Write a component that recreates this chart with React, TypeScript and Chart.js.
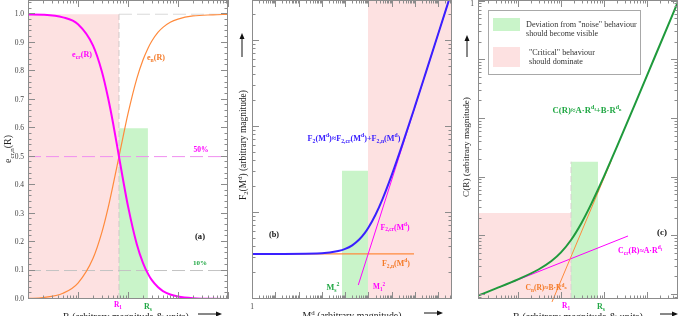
import React, { useEffect, useRef } from 'react';
import { Chart, registerables } from 'chart.js';

Chart.register(...registerables);

// ---------------- Panel (a): efficiencies vs R ----------------
const aR = [0.01, 0.02, 0.05, 0.1, 0.2, 0.3, 0.4, 0.5, 0.66, 0.8, 1, 1.5, 2, 2.5, 3, 4, 5, 7, 10, 20, 50, 100];
const aEcr = [0.999, 0.998, 0.989, 0.965, 0.89, 0.799, 0.706, 0.62, 0.5, 0.417, 0.326, 0.192, 0.126, 0.089, 0.066, 0.041, 0.028, 0.016, 0.009, 0.003, 0.0005, 0.0002];
const aEn = [0.002, 0.005, 0.02, 0.056, 0.143, 0.234, 0.32, 0.398, 0.5, 0.571, 0.651, 0.774, 0.84, 0.88, 0.906, 0.937, 0.954, 0.972, 0.983, 0.994, 0.998, 0.9995];
const aR1 = 0.66;
const aRs = 2.5;
const aXRange = [0.01, 100];
const aYRange = [0, 1.05];
const aCritTop = 1.0;
const aDevTop = 0.6;
const aLevel50 = 0.5;
const aLevel10 = 0.1;
const aYTickLabels = ['0.0', '0.1', '0.2', '0.3', '0.4', '0.5', '0.6', '0.7', '0.8', '0.9', '1.0'];

// ---------------- Panel (b): F2 vs M^d ----------------
const bM = [1, 1000, 5000, 10000, 20000, 40000, 70000, 1e5, 2e5, 4e5, 1e6, 3e6, 1e7, 3e7, 1e8, 2.85e8];
const bF2 = [3.34, 3.41, 3.61, 3.82, 4.21, 4.91, 5.87, 6.77, 9.53, 14.5, 27.7, 65.3, 176, 444, 1230, 3003];
const bF2nM = [1, 9e6];
const bF2nV = [3.34, 3.34];
const bF2crM = [36500, 2.85e8];
const bF2crV = [1.455, 3000];
const bMs2 = 7300;
const bM12 = 95000;
const bDevTop = 31;
const bXRange = [1, 3.84e8];
const bYRange = [1, 3000];

// ---------------- Panel (c): C(R) vs R ----------------
const cR = [1.175, 3, 10, 30, 60, 100, 171, 300, 500, 724, 1000, 2000, 5000, 15000, 52600];
const cC = [9.81e-6, 1.292e-5, 1.861e-5, 2.736e-5, 3.811e-5, 5.353e-5, 8.711e-5, 1.702e-4, 3.521e-4, 6.267e-4, 1.059e-3, 3.407e-3, 0.01653, 0.112, 1.0];
const cCrR = [3.81, 3614];
const cCrV = [1.38e-5, 1.019e-4];
const cCnR = [61.8, 1500];
const cCnV = [7.66e-6, 2.0e-3];
const cR1 = 171;
const cRs = 724;
const cCritTop = 2.51e-4;
const cDevTop = 1.88e-3;
const cXRange = [1.175, 52600];
const cYRange = [8.6e-6, 1.069];

// ---------------- styles ----------------
const FONT = '"Liberation Serif", "Times New Roman", serif';
const PINK = '#fde1e1';
const GREENF = '#c9f4c9';
const MAG = '#ff00ff';
const ORA = '#ff8a3c';
const ORAT = '#f47a28';
const BLUE = '#3a20ff';
const GRN = '#1f9a3c';
const GRNT = '#22a845';
const AXIS = '#8c8c8c';

type Txt = {
  t: string; x: number; y: number; w?: number; size?: number; c?: string; b?: boolean;
  rot?: boolean; xv?: number; align?: 'left' | 'center' | 'right';
};
type Spec = {
  yLin?: { labels: string[]; minorStep: number; majorEvery: number };
  yLabelOne?: boolean;
  texts: Txt[];
  arrows: number[][];
  legend?: boolean;
};

type Seg = { t: string; k: number; dy: number };
function parseRich(s: string, k = 1, dy = 0, out: Seg[] = []): Seg[] {
  let i = 0;
  let buf = '';
  const flush = () => { if (buf) { out.push({ t: buf, k, dy }); buf = ''; } };
  while (i < s.length) {
    const ch = s[i];
    if (ch === '_' || ch === '^') {
      flush();
      let inner = '';
      if (s[i + 1] === '{') {
        let depth = 0; let j = i + 1;
        for (; j < s.length; j++) {
          if (s[j] === '{') depth++;
          else if (s[j] === '}') { depth--; if (depth === 0) break; }
        }
        inner = s.slice(i + 2, j);
        i = j + 1;
      } else { inner = s[i + 1]; i += 2; }
      parseRich(inner, k * 0.7, dy + (ch === '_' ? 0.25 * k : -0.42 * k), out);
    } else { buf += ch; i++; }
  }
  flush();
  return out;
}

function drawRich(ctx: CanvasRenderingContext2D, tx: Txt, x: number) {
  const segs = parseRich(tx.t);
  const bold = tx.b ? 'bold ' : '';
  const measure = (size: number) => segs.reduce((acc, sg) => {
    ctx.font = `${bold}${size * sg.k}px ${FONT}`;
    return acc + ctx.measureText(sg.t).width;
  }, 0);
  let size = tx.size ?? 10;
  if (tx.w) size = size * tx.w / measure(size);
  const total = measure(size);
  ctx.save();
  ctx.translate(x, tx.y);
  if (tx.rot) ctx.rotate(-Math.PI / 2);
  const al = tx.align ?? 'center';
  let cx = al === 'left' ? 0 : al === 'right' ? -total : -total / 2;
  ctx.fillStyle = tx.c ?? '#222';
  ctx.textBaseline = 'alphabetic';
  ctx.textAlign = 'left';
  const base = size * 0.33;
  for (const sg of segs) {
    ctx.font = `${bold}${size * sg.k}px ${FONT}`;
    ctx.fillText(sg.t, cx, base + sg.dy * size);
    cx += ctx.measureText(sg.t).width;
  }
  ctx.restore();
}

function logTicks(min: number, max: number) {
  const out: { v: number; major: boolean }[] = [];
  for (let e = Math.floor(Math.log10(min)) - 1; e <= Math.ceil(Math.log10(max)); e++) {
    for (let m = 1; m <= 9; m++) {
      const v = m * Math.pow(10, e);
      if (v >= min * 0.999 && v <= max * 1.001) out.push({ v, major: m === 1 });
    }
  }
  return out;
}

function drawArrow(ctx: CanvasRenderingContext2D, a: number[]) {
  const [x1, y1, x2, y2] = a;
  const ang = Math.atan2(y2 - y1, x2 - x1);
  ctx.save();
  ctx.strokeStyle = '#111';
  ctx.fillStyle = '#111';
  ctx.lineWidth = 1;
  ctx.beginPath();
  ctx.moveTo(x1, y1);
  ctx.lineTo(x2 - 4 * Math.cos(ang), y2 - 4 * Math.sin(ang));
  ctx.stroke();
  ctx.beginPath();
  ctx.moveTo(x2, y2);
  ctx.lineTo(x2 - 6 * Math.cos(ang) + 2.5 * Math.sin(ang), y2 - 6 * Math.sin(ang) - 2.5 * Math.cos(ang));
  ctx.lineTo(x2 - 6 * Math.cos(ang) - 2.5 * Math.sin(ang), y2 - 6 * Math.sin(ang) + 2.5 * Math.cos(ang));
  ctx.closePath();
  ctx.fill();
  ctx.restore();
}

function makeDeco(spec: Spec) {
  return {
    id: 'deco',
    afterDatasetsDraw(chart: any) {
      const ctx: CanvasRenderingContext2D = chart.ctx;
      const ca = chart.chartArea;
      const xs = chart.scales.x;
      const ys = chart.scales.y;
      ctx.save();
      ctx.strokeStyle = AXIS;
      ctx.lineWidth = 1;
      ctx.strokeRect(ca.left + 0.5, ca.top + 0.5, ca.right - ca.left - 1, ca.bottom - ca.top - 1);
      ctx.beginPath();
      for (const t of logTicks(xs.min, xs.max)) {
        const p = Math.round(xs.getPixelForValue(t.v)) + 0.5;
        const L = t.major ? 7 : 3.5;
        ctx.moveTo(p, ca.bottom); ctx.lineTo(p, ca.bottom - L);
        ctx.moveTo(p, ca.top); ctx.lineTo(p, ca.top + L);
      }
      let yt: { v: number; major: boolean; lab?: string }[] = [];
      if (spec.yLin) {
        const n = Math.floor((ys.max - ys.min) / spec.yLin.minorStep + 1e-6);
        for (let i = 0; i <= n; i++) {
          const major = i % spec.yLin.majorEvery === 0;
          yt.push({ v: ys.min + i * spec.yLin.minorStep, major, lab: major ? spec.yLin.labels[i / spec.yLin.majorEvery] : undefined });
        }
      } else {
        yt = logTicks(ys.min, ys.max);
      }
      for (const t of yt) {
        const p = Math.round(ys.getPixelForValue(t.v)) - 0.5;
        const L = t.major ? 7 : 3.5;
        ctx.moveTo(ca.left, p); ctx.lineTo(ca.left + L, p);
        ctx.moveTo(ca.right, p); ctx.lineTo(ca.right - L, p);
      }
      ctx.stroke();
      ctx.fillStyle = '#444';
      ctx.font = `7.5px ${FONT}`;
      ctx.textAlign = 'right';
      ctx.textBaseline = 'middle';
      for (const t of yt) {
        if (t.lab) ctx.fillText(t.lab, ca.left - 4, ys.getPixelForValue(t.v));
      }
      if (spec.yLabelOne) ctx.fillText('1', ca.left - 4, ys.getPixelForValue(1) + 2);
      if (spec.legend) {
        ctx.fillStyle = '#fff';
        ctx.fillRect(488, 10, 152, 64);
        ctx.strokeStyle = '#a8a8a8';
        ctx.strokeRect(488.5, 10.5, 152, 64);
        ctx.fillStyle = GREENF;
        ctx.fillRect(493, 18, 27, 13);
        ctx.fillStyle = PINK;
        ctx.fillRect(493, 47, 27, 20);
      }
      for (const tx of spec.texts) {
        const x = tx.xv !== undefined ? xs.getPixelForValue(tx.xv) + tx.x : tx.x;
        drawRich(ctx, tx, x);
      }
      for (const a of spec.arrows) drawArrow(ctx, a);
      ctx.restore();
    },
  };
}

const pts = (xs: number[], ys: number[]) => xs.map((x, i) => ({ x, y: ys[i] }));
const line = (data: any[], color: string, width: number, extra: any = {}) => ({
  data, borderColor: color, borderWidth: width, pointRadius: 0, fill: false, ...extra,
});
const region = (x1: number, x2: number, top: number, base: number, color: string) => ({
  data: [{ x: x1, y: top }, { x: x2, y: top }],
  borderWidth: 0, borderColor: 'rgba(0,0,0,0)', backgroundColor: color,
  fill: { value: base }, pointRadius: 0,
});

function makeConfig(pad: any, xr: number[], yType: string, yr: number[], datasets: any[], spec: Spec): any {
  const n = datasets.length;
  datasets.forEach((d, i) => { d.order = n - i; });
  return {
    type: 'line',
    data: { datasets },
    options: {
      responsive: false,
      animation: false,
      devicePixelRatio: 1,
      events: [],
      layout: { padding: pad },
      plugins: { legend: { display: false }, tooltip: { enabled: false } },
      scales: {
        x: { type: 'logarithmic', min: xr[0], max: xr[1], display: false },
        y: { type: yType, min: yr[0], max: yr[1], display: false },
      },
      elements: { point: { radius: 0 } },
    },
    plugins: [makeDeco(spec)],
  };
}

function configA() {
  const ds = [
    region(aXRange[0], aR1, aCritTop, aYRange[0], PINK),
    region(aR1, aRs, aDevTop, aYRange[0], GREENF),
    line(pts([aR1, aXRange[1]], [aCritTop, aCritTop]), '#dadada', 1, { borderDash: [13, 5] }),
    line(pts([aR1, aR1], [aYRange[0], aCritTop]), '#d2c8c8', 1, { borderDash: [6, 3] }),
    line(pts(aXRange, [aLevel10, aLevel10]), '#c4c4c4', 1, { borderDash: [13, 5] }),
    line(pts(aXRange, [aLevel50, aLevel50]), '#f08ef0', 1, { borderDash: [13, 5] }),
    line(pts(aR, aEn), ORA, 1.2, { cubicInterpolationMode: 'monotone' }),
    line(pts(aR, aEcr), MAG, 2, { cubicInterpolationMode: 'monotone' }),
  ];
  const spec: Spec = {
    yLin: { labels: aYTickLabels, minorStep: 0.02, majorEvery: 5 },
    texts: [
      { t: 'e_{cr}(R)', x: 82, y: 54, w: 20, c: MAG, b: true },
      { t: 'e_{n}(R)', x: 156, y: 57, w: 18, c: ORAT, b: true },
      { t: '50%', x: 201, y: 150, w: 15, c: MAG, b: true },
      { t: '(a)', x: 200, y: 236, w: 10, c: '#111', b: true },
      { t: '10%', x: 200, y: 263, w: 14, c: GRNT, b: true },
      { t: 'R_{1}', xv: aR1, x: -1, y: 305, w: 8, c: MAG, b: true },
      { t: 'R_{s}', xv: aRs, x: 0, y: 306, w: 8, c: GRNT, b: true },
      { t: 'R (arbitrary magnitude & units)', x: 126, y: 317, w: 126 },
      { t: 'e_{cr,n}(R)', x: 8, y: 149, w: 28, rot: true },
    ],
    arrows: [[198, 314, 222, 314]],
  };
  return makeConfig({ left: 28, right: 451, top: 0, bottom: 17 }, aXRange, 'linear', aYRange, ds, spec);
}

function configB() {
  const ds = [
    region(bMs2, bM12, bDevTop, bYRange[0], GREENF),
    region(bM12, bXRange[1], bYRange[1], bYRange[0], PINK),
    line(pts(bF2nM, bF2nV), ORA, 1.2),
    line(pts(bF2crM, bF2crV), MAG, 1),
    line(pts(bM, bF2), BLUE, 2, { cubicInterpolationMode: 'monotone' }),
  ];
  const spec: Spec = {
    texts: [
      { t: 'F_{2}(M^{d})≈F_{2,cr}(M^{d})+F_{2,n}(M^{d})', x: 354, y: 138, w: 93, c: BLUE, b: true },
      { t: '(b)', x: 274, y: 234, w: 10, c: '#111', b: true },
      { t: 'F_{2,cr}(M^{d})', x: 395, y: 227, w: 29, c: MAG, b: true },
      { t: 'F_{2,n}(M^{d})', x: 396, y: 263, w: 28, c: ORAT, b: true },
      { t: 'M_{s}^{2}', x: 333, y: 287, w: 13, c: GRNT, b: true },
      { t: 'M_{1}^{2}', x: 379, y: 287, w: 12, c: MAG, b: true },
      { t: '1', x: 252, y: 307, size: 7.5, c: '#444' },
      { t: 'M^{d} (arbitrary magnitude)', x: 352, y: 316, w: 99 },
      { t: 'F_{2}(M^{d}) (arbitrary magnitude)', x: 243, y: 145, w: 110, rot: true },
    ],
    arrows: [[424, 313, 443, 313], [242, 57, 242, 33]],
  };
  return makeConfig({ left: 252, right: 227, top: 0, bottom: 17 }, bXRange, 'logarithmic', bYRange, ds, spec);
}

function configC() {
  const ds = [
    region(cXRange[0], cR1, cCritTop, cYRange[0], PINK),
    region(cR1, cRs, cDevTop, cYRange[0], GREENF),
    line(pts([cR1, cR1], [cYRange[0], cDevTop]), '#d8d0d0', 1, { borderDash: [6, 3] }),
    line(pts(cCrR, cCrV), MAG, 1),
    line(pts(cCnR, cCnV), ORA, 1, { clip: 6 }),
    line(pts(cR, cC), GRN, 2, { cubicInterpolationMode: 'monotone' }),
  ];
  const spec: Spec = {
    yLabelOne: true,
    legend: true,
    texts: [
      { t: 'Deviation from "noise" behaviour', x: 526, y: 24, w: 111, c: '#333', align: 'left' },
      { t: 'should become visible', x: 526, y: 33, w: 72, c: '#333', align: 'left' },
      { t: '"Critical" behaviour', x: 529, y: 52, w: 66, c: '#333', align: 'left' },
      { t: 'should dominate', x: 529, y: 61, w: 54, c: '#333', align: 'left' },
      { t: 'C(R)≈A·R^{d_{f}}+B·R^{d_{n}}', x: 587, y: 110, w: 69, c: GRNT, b: true },
      { t: '(c)', x: 662, y: 232, w: 10, c: '#111', b: true },
      { t: 'C_{cr}(R)≈A·R^{d_{f}}', x: 640, y: 250, w: 44, c: MAG, b: true },
      { t: 'C_{n}(R)≈B·R^{d_{n}}', x: 546, y: 288, w: 41, c: ORAT, b: true },
      { t: 'R_{1}', xv: cR1, x: -5, y: 306, w: 8, c: MAG, b: true },
      { t: 'R_{s}', xv: cRs, x: 3, y: 306, w: 8, c: GRNT, b: true },
      { t: 'R (arbitrary magnitude & units)', x: 578, y: 317, w: 130 },
      { t: 'C(R) (arbitrary magnitude)', x: 466, y: 147, w: 100, rot: true },
    ],
    arrows: [[660, 314, 678, 314], [467, 57, 467, 35]],
  };
  return makeConfig({ left: 478, right: 1, top: 0, bottom: 17 }, cXRange, 'logarithmic', cYRange, ds, spec);
}

export default function App() {
  const ra = useRef<HTMLCanvasElement>(null);
  const rb = useRef<HTMLCanvasElement>(null);
  const rc = useRef<HTMLCanvasElement>(null);
  useEffect(() => {
    document.body.style.margin = '0';
    const charts = [
      new Chart(ra.current as HTMLCanvasElement, configA()),
      new Chart(rb.current as HTMLCanvasElement, configB()),
      new Chart(rc.current as HTMLCanvasElement, configC()),
    ];
    return () => charts.forEach((c) => c.destroy());
  }, []);
  const cs: React.CSSProperties = { position: 'absolute', left: 0, top: 0, width: 679, height: 316 };
  return (
    <div style={{ position: 'relative', width: 679, height: 316, background: '#fff', overflow: 'hidden' }}>
      <canvas ref={ra} width={679} height={316} style={cs} />
      <canvas ref={rb} width={679} height={316} style={cs} />
      <canvas ref={rc} width={679} height={316} style={cs} />
    </div>
  );
}
